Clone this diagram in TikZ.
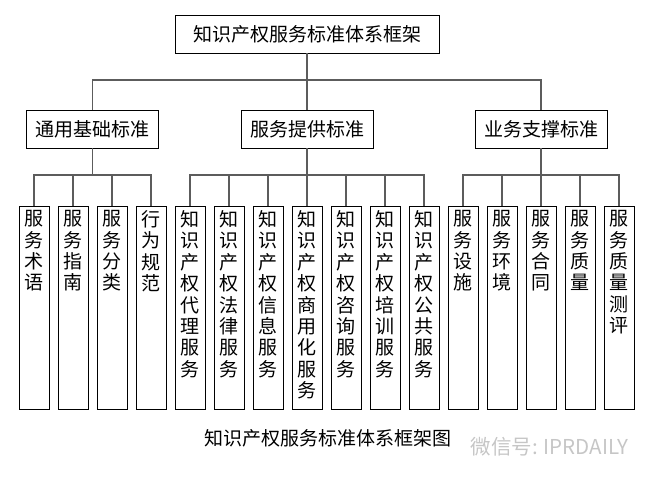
\documentclass[tikz,border=0pt]{standalone}
\usepackage{fontspec}
\usepackage{tikz}
\usetikzlibrary{positioning}
\newfontfamily\cjk{Noto Sans CJK SC}
\definecolor{linegray}{HTML}{5c5c5c}
\definecolor{markgray}{HTML}{c6c6c6}
\newcommand{\vtext}[1]{\parbox[t][195pt][t]{20pt}{\centering #1}}
\tikzset {
  node distance={8.1pt},
  % framed box with one line of text
  box/.style = {draw=black, line width=0.9pt, inner sep=0pt, minimum height=38pt,
    font=\cjk\fontsize{19}{21.4}\selectfont},
  rootbox/.style = {box, minimum width=264pt},
  groupbox/.style = {box, minimum width=132pt},
  % tall boxes with text running down
  leafbox/.style = {box, minimum width=30pt, anchor=north, inner ysep=4pt},
  % tree lines
  conn/.style = {linegray, line width=1.5pt},
  caption/.style = {font=\cjk\fontsize{19}{21}\selectfont},
  watermark/.style = {markgray, font=\cjk\fontsize{20.5}{22}\selectfont},
}
\begin{document}
\begin{tikzpicture}
        \useasboundingbox (0,0) rectangle (660pt,-481pt);
        \node[rootbox] (root) at (307pt,-34pt) {知识产权服务标准体系框架};
        \node[groupbox] (basic) at (92.5pt,-129pt) {通用基础标准};
        \node[groupbox] (provide) at (307pt,-129pt) {服务提供标准};
        \node[groupbox] (support) at (541pt,-129pt) {业务支撑标准};

        \node[leafbox] (commerce) at (307pt,-206pt) {\vtext{知\\识\\产\\权\\商\\用\\化\\服\\务}};
        \node[leafbox, left=of commerce] (info) {\vtext{知\\识\\产\\权\\信\\息\\服\\务}};
        \node[leafbox, left=of info] (legal) {\vtext{知\\识\\产\\权\\法\\律\\服\\务}};
        \node[leafbox, left=of legal] (agency) {\vtext{知\\识\\产\\权\\代\\理\\服\\务}};
        \node[leafbox, left=of agency] (conduct) {\vtext{行\\为\\规\\范}};
        \node[leafbox, left=of conduct] (classify) {\vtext{服\\务\\分\\类}};
        \node[leafbox, left=of classify] (guide) {\vtext{服\\务\\指\\南}};
        \node[leafbox, left=of guide] (term) {\vtext{服\\务\\术\\语}};
        \node[leafbox, right=of commerce] (consult) {\vtext{知\\识\\产\\权\\咨\\询\\服\\务}};
        \node[leafbox, right=of consult] (train) {\vtext{知\\识\\产\\权\\培\\训\\服\\务}};
        \node[leafbox, right=of train] (public) {\vtext{知\\识\\产\\权\\公\\共\\服\\务}};
        \node[leafbox, right=of public] (facility) {\vtext{服\\务\\设\\施}};
        \node[leafbox, right=of facility] (environ) {\vtext{服\\务\\环\\境}};
        \node[leafbox, right=of environ] (contract) {\vtext{服\\务\\合\\同}};
        \node[leafbox, right=of contract] (quality) {\vtext{服\\务\\质\\量}};
        \node[leafbox, right=of quality] (evaluate) {\vtext{服\\务\\质\\量\\测\\评}};

        \node[caption] (title) at (328pt,-438pt) {知识产权服务标准体系框架图};
        \node[watermark, anchor=west] (wechat) at (467pt,-447pt) {微信号: IPRDAILY};

        % bus heights
        \coordinate (upper) at (0,-80pt);
        \coordinate (lower) at (0,-175pt);

        \draw[conn] (root) -- (provide);
        \draw[conn] (basic.north) -- (basic.north |- upper) -- (support.north |- upper) -- (support.north);

        \draw[conn] (basic.south) -- (basic.south |- lower)
          (term.north) -- (term.north |- lower) -- (conduct.north |- lower) -- (conduct.north)
          (guide.north) -- (guide.north |- lower)
          (classify.north) -- (classify.north |- lower);
        \draw[conn] (provide.south) -- (provide.south |- lower)
          (agency.north) -- (agency.north |- lower) -- (public.north |- lower) -- (public.north)
          (legal.north) -- (legal.north |- lower)
          (info.north) -- (info.north |- lower)
          (commerce.north) -- (commerce.north |- lower)
          (consult.north) -- (consult.north |- lower)
          (train.north) -- (train.north |- lower);
        \draw[conn] (support.south) -- (support.south |- lower)
          (facility.north) -- (facility.north |- lower) -- (evaluate.north |- lower) -- (evaluate.north)
          (environ.north) -- (environ.north |- lower)
          (contract.north) -- (contract.north |- lower)
          (quality.north) -- (quality.north |- lower);
      \end{tikzpicture}
\end{document}
